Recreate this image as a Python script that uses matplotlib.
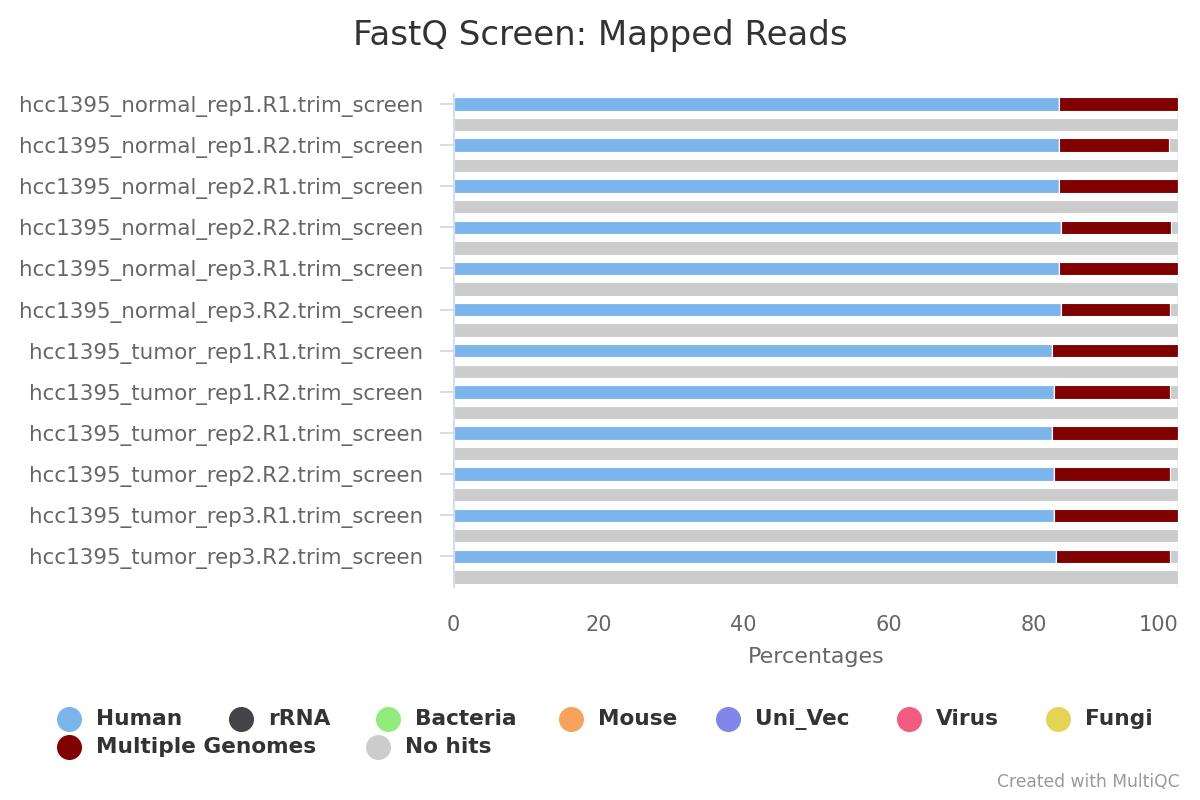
import numpy as np
import matplotlib
matplotlib.use("Agg")
import matplotlib.pyplot as plt
from matplotlib.lines import Line2D

plt.rcParams['font.family'] = ['DejaVu Sans']

samples = [
    "hcc1395_normal_rep1.R1.trim_screen",
    "hcc1395_normal_rep1.R2.trim_screen",
    "hcc1395_normal_rep2.R1.trim_screen",
    "hcc1395_normal_rep2.R2.trim_screen",
    "hcc1395_normal_rep3.R1.trim_screen",
    "hcc1395_normal_rep3.R2.trim_screen",
    "hcc1395_tumor_rep1.R1.trim_screen",
    "hcc1395_tumor_rep1.R2.trim_screen",
    "hcc1395_tumor_rep2.R1.trim_screen",
    "hcc1395_tumor_rep2.R2.trim_screen",
    "hcc1395_tumor_rep3.R1.trim_screen",
    "hcc1395_tumor_rep3.R2.trim_screen",
]

# each sample is followed by a row whose label is hidden (all "No hits")
human = [83.5, 0, 83.5, 0, 83.5, 0, 83.8, 0, 83.5, 0, 83.8, 0,
         82.6, 0, 82.9, 0, 82.6, 0, 82.9, 0, 82.9, 0, 83.1, 0]
multiple = [16.5, 0, 15.2, 0, 16.5, 0, 15.2, 0, 16.5, 0, 15.1, 0,
            17.4, 0, 16.0, 0, 17.4, 0, 16.0, 0, 17.1, 0, 15.8, 0]
no_hits = [0, 100, 1.3, 100, 0, 100, 1.0, 100, 0, 100, 1.1, 100,
           0, 100, 1.1, 100, 0, 100, 1.1, 100, 0, 100, 1.1, 100]
zeros = [0] * 24

series_names = ["Human", "rRNA", "Bacteria", "Mouse", "Uni_Vec", "Virus",
                "Fungi", "Multiple Genomes", "No hits"]
series_values = [human, zeros, zeros, zeros, zeros, zeros, zeros, multiple, no_hits]
colors = ["#7cb5ec", "#434348", "#90ed7d", "#f7a35c", "#8085e9", "#f15c80",
          "#e4d354", "#800000", "#cccccc"]

fig = plt.figure(figsize=(12, 8), dpi=100)
ax = fig.add_axes([0.378, 0.266, 0.604, 0.617])

y = np.arange(24)
left = np.zeros(24)
for name, vals, col in zip(series_names, series_values, colors):
    vals = np.array(vals, dtype=float)
    ax.barh(y, vals, left=left, height=0.65, color=col, edgecolor='white',
            linewidth=0.8, label=name)
    left += vals

ax.set_xlim(0, 100)
ax.set_ylim(23.5, -0.5)
ax.set_yticks(y[::2])
ax.set_yticklabels(samples, fontsize=15.4, color='#666666')
ax.set_xticks([0, 20, 40, 60, 80, 100])
ax.tick_params(axis='x', length=0, labelsize=15, labelcolor='#666666', pad=20)
ax.get_xticklabels()[-1].set_ha('right')
ax.tick_params(axis='y', length=10, color='#ccd6eb', width=1.2, pad=12)
for s in ['top', 'bottom', 'right']:
    ax.spines[s].set_visible(False)
ax.spines['left'].set_color('#ccd6eb')
ax.spines['left'].set_linewidth(1.2)
ax.axvline(100, color='#e6e6e6', lw=1.2, zorder=0)
ax.set_xlabel("Percentages", fontsize=16, color='#666666', labelpad=9)

fig.text(0.5, 0.955, "FastQ Screen: Mapped Reads", ha='center', va='center',
         fontsize=24.5, color='#333333')

# legend laid out in rows like the original (marker x in pixels, series index)
leg_rows = [(719, [(69, 0), (241, 1), (388, 2), (571, 3), (728, 4), (909, 5), (1058, 6)]),
            (747, [(69, 7), (378, 8)])]
for ypx, items in leg_rows:
    yy = 1 - ypx / 800
    for xpx, i in items:
        fig.add_artist(Line2D([xpx / 1200], [yy], marker='o', markersize=17,
                              color=colors[i], linestyle='none', transform=fig.transFigure))
        fig.text((xpx + 27) / 1200, yy, series_names[i], ha='left', va='center',
                 fontsize=15.6, fontweight='bold', color='#333333')

fig.text(0.983, 0.022, "Created with MultiQC", ha='right', va='center',
         fontsize=12.3, color='#999999')

fig.savefig("out.png", dpi=100)
